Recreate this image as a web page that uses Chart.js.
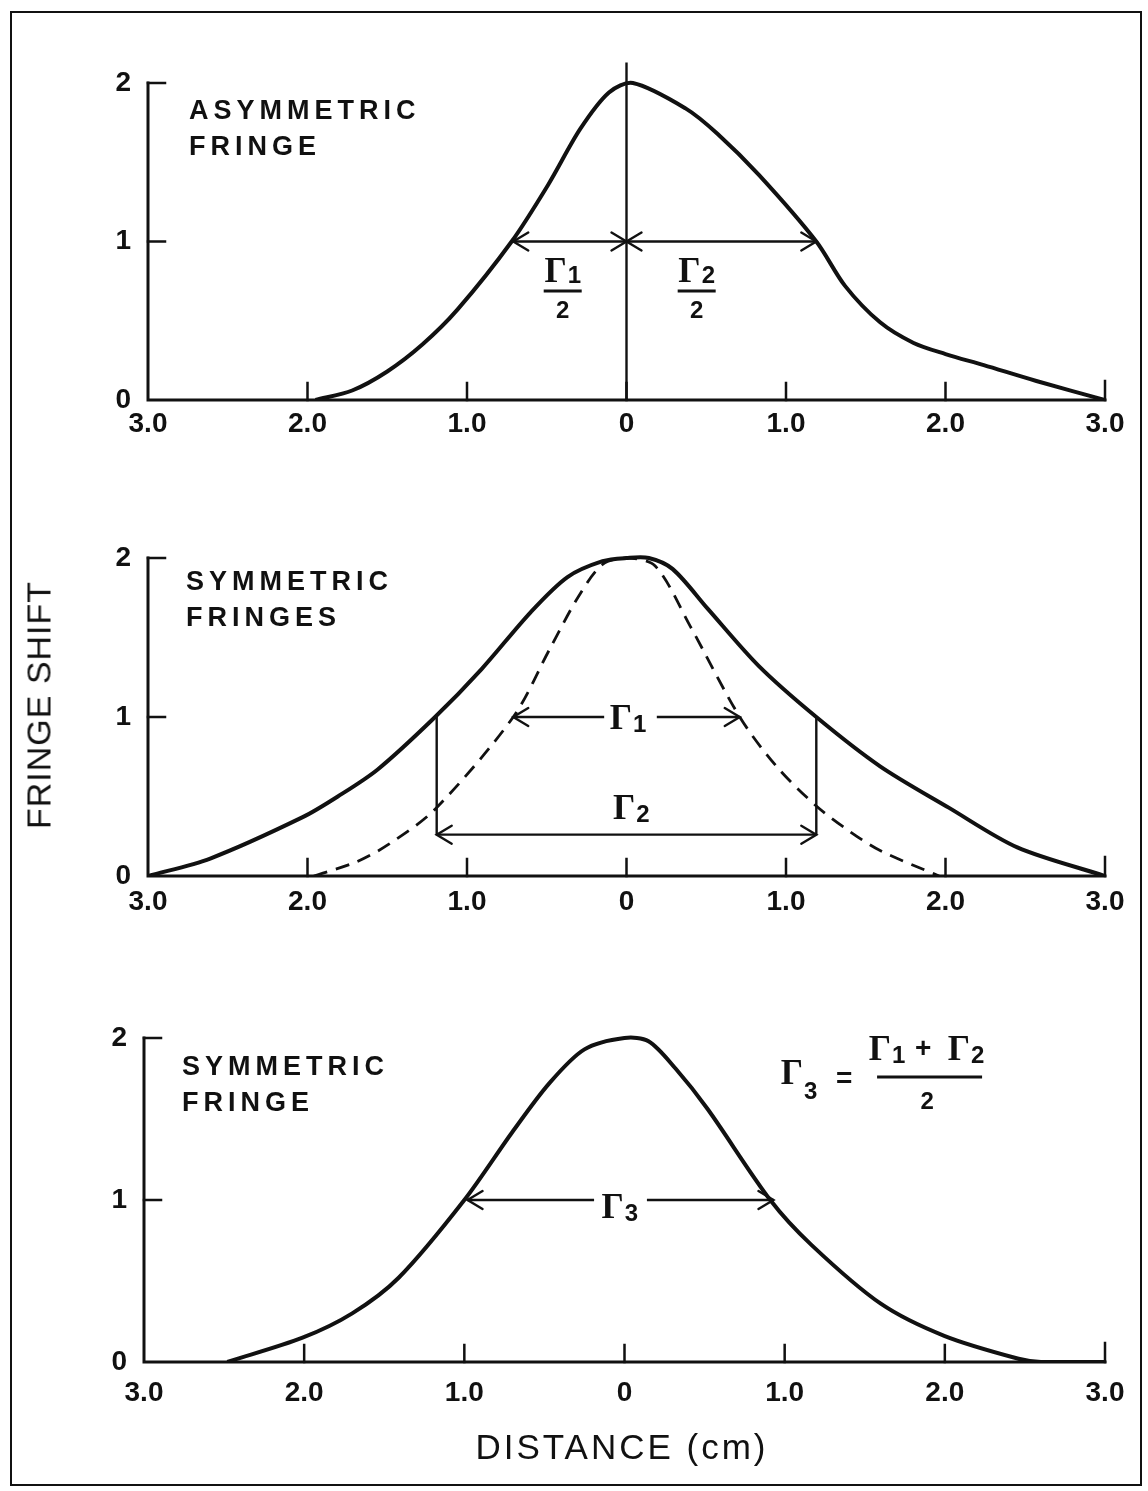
<!DOCTYPE html>
<html>
<head>
<meta charset="utf-8">
<title>Fringe shift vs distance</title>
<script src="https://cdn.jsdelivr.net/npm/chart.js@4.4.1/dist/chart.umd.min.js"></script>
<style>
  html, body { margin: 0; padding: 0; background: #fff; }
  #page { position: relative; width: 1148px; height: 1491px; overflow: hidden; color: #111; font-family: "Liberation Sans", Arial, sans-serif; }
  #frame { position: absolute; left: 10px; top: 11px; width: 1128px; height: 1471px; border: 2px solid #111; }
  #page canvas { position: absolute; left: 0; }
  .title { position: absolute; font-weight: bold; font-size: 27px; line-height: 36px; letter-spacing: 5px; white-space: nowrap; }
  #ylabel { position: absolute; left: 39px; top: 705px; transform: translate(-50%, -50%) rotate(-90deg); font-size: 34px; letter-spacing: 1px; white-space: nowrap; }
  #xlabel { position: absolute; left: 622px; top: 1447px; transform: translate(-50%, -50%); font-size: 35px; letter-spacing: 3px; white-space: nowrap; }
</style>
</head>
<body>
<div id="page">
  <div id="frame"></div>
  <canvas id="asym" width="1148" height="480" style="top:0px"></canvas>
  <canvas id="pair" width="1148" height="480" style="top:470px"></canvas>
  <canvas id="mean" width="1148" height="480" style="top:950px"></canvas>
  <div class="title" style="left:189px; top:92px">ASYMMETRIC<br>FRINGE</div>
  <div class="title" style="left:186px; top:563px">SYMMETRIC<br>FRINGES</div>
  <div class="title" style="left:182px; top:1048px">SYMMETRIC<br>FRINGE</div>
  <div id="ylabel">FRINGE SHIFT</div>
  <div id="xlabel">DISTANCE (cm)</div>
</div>
<script>
const ink = '#111';

// axis ticks (distance in cm either side of centre, fringe shift)
const distanceTicks = [-3, -2, -1, 0, 1, 2, 3];
const shiftTicks = [0, 1, 2];

// asymmetric fringe
const asymX = [-1.95, -1.72, -1.5, -1.28, -1.06, -0.72, -0.49, -0.29, -0.11, 0.04, 0.37, 0.57, 0.83, 1.19, 1.37, 1.59, 1.80, 2.0, 2.24, 2.57, 3.0];
const asymY = [0, 0.06, 0.18, 0.35, 0.57, 1.0, 1.36, 1.71, 1.94, 2.0, 1.84, 1.68, 1.42, 1.0, 0.72, 0.49, 0.36, 0.29, 0.22, 0.12, 0];

// symmetric fringes: wide (solid) and narrow (dashed)
const wideX = [-3, -2.61, -2.03, -1.81, -1.56, -1.2, -0.91, -0.6, -0.37, -0.15, 0, 0.14, 0.29, 0.51, 0.83, 1.19, 1.59, 2.02, 2.45, 3.0];
const wideY = [0, 0.11, 0.37, 0.50, 0.67, 1.0, 1.30, 1.66, 1.88, 1.98, 2.0, 2.0, 1.93, 1.68, 1.32, 1.0, 0.69, 0.43, 0.18, 0];
const narrowX = [-1.96, -1.69, -1.49, -1.2, -0.71, -0.48, -0.30, -0.15, 0, 0.18, 0.40, 0.71, 0.94, 1.19, 1.40, 1.59, 1.96];
const narrowY = [0, 0.09, 0.20, 0.42, 1.0, 1.43, 1.76, 1.96, 2.0, 1.95, 1.57, 1.0, 0.69, 0.44, 0.28, 0.16, 0];

// averaged symmetric fringe
const meanX = [-2.48, -2.01, -1.70, -1.41, -1.0, -0.70, -0.47, -0.25, 0, 0.15, 0.32, 0.52, 0.91, 1.17, 1.60, 2.0, 2.46, 2.6, 3.0];
const meanY = [0, 0.15, 0.30, 0.52, 1.0, 1.42, 1.72, 1.93, 2.0, 1.98, 1.81, 1.56, 1.0, 0.72, 0.36, 0.16, 0.02, 0, 0];

// widths measured at fringe shift = 1
const halfLevel = 1;
const gamma1Half = [-0.71, 0];
const gamma2Half = [0, 1.19];
const centreMark = [0, 2.13];
const gamma1 = [-0.71, 0.71];
const gamma2 = [-1.19, 1.19];
const gamma2Level = 0.26;
const gamma3 = [-0.98, 0.93];

const curve = (xs, ys, extra) => Object.assign({
  data: xs.map((x, i) => ({ x, y: ys[i] })),
  borderColor: ink, borderWidth: 4, pointRadius: 0,
  tension: 0.3, fill: false
}, extra);
const seg = (x1, y1, x2, y2) => ({
  data: [{ x: x1, y: y1 }, { x: x2, y: y2 }],
  borderColor: ink, borderWidth: 2.4, pointRadius: 0, tension: 0, fill: false
});

const serif = 'bold 35px "Liberation Serif"';
const subFont = 'bold 24px "Liberation Sans"';

// Γ with a numeric subscript, centred on (cx, cy)
function drawGamma(ctx, cx, cy, sub, drop = 3) {
  ctx.font = serif;
  const gw = ctx.measureText('Γ').width;
  ctx.font = subFont;
  const sw = ctx.measureText(sub).width;
  const left = cx - (gw + sw + 1) / 2;
  ctx.textAlign = 'left';
  ctx.textBaseline = 'alphabetic';
  ctx.font = serif;
  ctx.fillText('Γ', left, cy + 11.5);
  ctx.font = subFont;
  ctx.fillText(sub, left + gw + 1, cy + 11.5 + drop);
}

function drawHalf(ctx, cx, cy, sub) {
  drawGamma(ctx, cx, cy, sub, 1);
  ctx.lineWidth = 3;
  ctx.lineCap = 'butt';
  ctx.beginPath();
  ctx.moveTo(cx - 19, cy + 21);
  ctx.lineTo(cx + 19, cy + 21);
  ctx.stroke();
  ctx.font = 'bold 24px "Liberation Sans"';
  ctx.textAlign = 'center';
  ctx.textBaseline = 'middle';
  ctx.fillText('2', cx, cy + 41);
}

const marks = {
  asym: {
    heads: [[gamma1Half[0], halfLevel, -1], [gamma1Half[1], halfLevel, 1], [gamma2Half[0], halfLevel, -1], [gamma2Half[1], halfLevel, 1]],
    text: [{ x: -0.40, y: 0.82, sub: '1', half: true }, { x: 0.44, y: 0.82, sub: '2', half: true }]
  },
  pair: {
    heads: [[gamma1[0], halfLevel, -1], [gamma1[1], halfLevel, 1], [gamma2[0], gamma2Level, -1], [gamma2[1], gamma2Level, 1]],
    text: [{ x: 0.01, y: 1.0, sub: '1' }, { x: 0.03, y: 0.43, sub: '2' }]
  },
  mean: {
    heads: [[gamma3[0], halfLevel, -1], [gamma3[1], halfLevel, 1]],
    text: [{ x: -0.03, y: 0.96, sub: '3' }],
    formula: { x: 1.09, y: 1.79 }
  }
};

// axes with inward ticks, arrowheads and width labels
const fringeMarks = {
  id: 'fringeMarks',
  afterDatasetsDraw(chart) {
    const { ctx, scales: { x, y } } = chart;
    const x0 = x.getPixelForValue(-3), x3 = x.getPixelForValue(3);
    const y0 = y.getPixelForValue(0), y2 = y.getPixelForValue(2);
    ctx.save();
    ctx.strokeStyle = ink;
    ctx.fillStyle = ink;
    ctx.lineCap = 'square';
    ctx.lineWidth = 3;
    ctx.beginPath();
    ctx.moveTo(x0, y2);
    ctx.lineTo(x0, y0);
    ctx.lineTo(x3, y0);
    ctx.stroke();
    ctx.lineWidth = 2.5;
    ctx.beginPath();
    shiftTicks.slice(1).forEach(v => {
      const p = y.getPixelForValue(v);
      ctx.moveTo(x0, p);
      ctx.lineTo(x0 + 17, p);
    });
    distanceTicks.slice(1).forEach(v => {
      const p = x.getPixelForValue(v);
      ctx.moveTo(p, y0);
      ctx.lineTo(p, y0 - (v === 3 ? 19 : 17));
    });
    ctx.stroke();

    const m = marks[chart.canvas.id];
    ctx.lineCap = 'round';
    ctx.lineWidth = 2.4;
    ctx.beginPath();
    m.heads.forEach(([hx, hy, dir]) => {
      const px = x.getPixelForValue(hx), py = y.getPixelForValue(hy);
      ctx.moveTo(px - dir * 15, py - 9);
      ctx.lineTo(px, py);
      ctx.lineTo(px - dir * 15, py + 9);
    });
    ctx.stroke();

    m.text.forEach(t => {
      const px = x.getPixelForValue(t.x), py = y.getPixelForValue(t.y);
      if (t.half) drawHalf(ctx, px, py, t.sub);
      else drawGamma(ctx, px, py, t.sub);
    });

    if (m.formula) {
      const fx = x.getPixelForValue(m.formula.x), fy = y.getPixelForValue(m.formula.y);
      drawGamma(ctx, fx, fy, '3', 15);
      ctx.font = 'bold 28px "Liberation Sans"';
      ctx.textAlign = 'center';
      ctx.textBaseline = 'middle';
      ctx.fillText('=', fx + 45, fy + 7);
      drawGamma(ctx, fx + 88, fy - 24, '1');
      ctx.font = 'bold 28px "Liberation Sans"';
      ctx.textAlign = 'center';
      ctx.textBaseline = 'middle';
      ctx.fillText('+', fx + 124, fy - 23);
      drawGamma(ctx, fx + 167, fy - 24, '2');
      ctx.lineWidth = 3;
      ctx.lineCap = 'butt';
      ctx.beginPath();
      ctx.moveTo(fx + 78, fy + 5);
      ctx.lineTo(fx + 183, fy + 5);
      ctx.stroke();
      ctx.font = 'bold 24px "Liberation Sans"';
      ctx.textAlign = 'center';
      ctx.textBaseline = 'middle';
      ctx.fillText('2', fx + 128, fy + 30);
    }
    ctx.restore();
  }
};

function makePanel(id, box, datasets) {
  const canvasTop = parseFloat(document.getElementById(id).style.top);
  const unit = (box.zero - box.two) / 2;
  const yMax = 2.2;
  const axisH = 60, axisW = 60;
  const tickFont = { family: 'Liberation Sans', size: 28, weight: 'bold' };
  return new Chart(document.getElementById(id), {
    type: 'line',
    data: { datasets },
    options: {
      responsive: false,
      animation: false,
      events: [],
      layout: {
        padding: {
          top: box.zero - yMax * unit - canvasTop,
          bottom: 480 - (box.zero - canvasTop) - axisH,
          left: box.left - axisW,
          right: 1148 - box.right
        }
      },
      plugins: { legend: { display: false }, tooltip: { enabled: false } },
      scales: {
        x: {
          type: 'linear', min: -3, max: 3,
          afterBuildTicks: s => { s.ticks = distanceTicks.map(v => ({ value: v })); },
          afterFit: s => { s.height = axisH; },
          grid: { display: false, drawTicks: false },
          border: { display: false },
          ticks: {
            padding: box.xPad, color: ink, font: tickFont, maxRotation: 0,
            callback: v => v === 0 ? '0' : Math.abs(v).toFixed(1)
          }
        },
        y: {
          type: 'linear', min: 0, max: yMax,
          afterBuildTicks: s => { s.ticks = shiftTicks.map(v => ({ value: v })); },
          afterFit: s => { s.width = axisW; },
          grid: { display: false, drawTicks: false },
          border: { display: false },
          ticks: { padding: 17, color: ink, font: tickFont, callback: v => String(v) }
        }
      }
    },
    plugins: [fringeMarks]
  });
}

makePanel('asym', { left: 148, right: 1105, zero: 400, two: 83, xPad: 7 }, [
  seg(0, centreMark[0], 0, centreMark[1]),
  seg(gamma1Half[0], halfLevel, gamma1Half[1], halfLevel),
  seg(gamma2Half[0], halfLevel, gamma2Half[1], halfLevel),
  curve(asymX, asymY)
]);

makePanel('pair', { left: 148, right: 1105, zero: 876, two: 558, xPad: 9 }, [
  seg(gamma1[0], halfLevel, -0.14, halfLevel),
  seg(0.19, halfLevel, gamma1[1], halfLevel),
  seg(gamma2[0], gamma2Level, gamma2[1], gamma2Level),
  seg(gamma2[0], gamma2Level, gamma2[0], halfLevel),
  seg(gamma2[1], gamma2Level, gamma2[1], halfLevel),
  curve(narrowX, narrowY, { borderWidth: 2.8, borderDash: [14, 9] }),
  curve(wideX, wideY)
]);

makePanel('mean', { left: 144, right: 1105, zero: 1362, two: 1038, xPad: 14 }, [
  seg(gamma3[0], halfLevel, -0.19, halfLevel),
  seg(0.14, halfLevel, gamma3[1], halfLevel),
  curve(meanX, meanY)
]);
</script>
</body>
</html>
